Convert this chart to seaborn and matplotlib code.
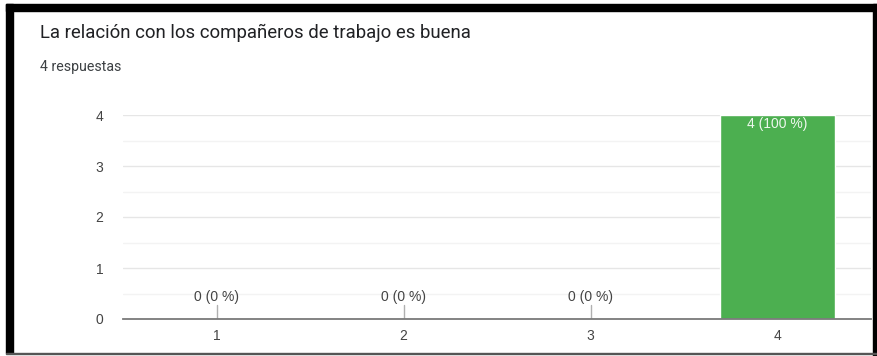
import seaborn as sns
import matplotlib.pyplot as plt
import pandas as pd
from matplotlib.patches import Rectangle

categories = ['1', '2', '3', '4']
counts = [0, 0, 0, 4]
labels = ['0 (0 %)', '0 (0 %)', '0 (0 %)', '4 (100 %)']

df = pd.DataFrame({'cat': categories, 'n': counts})

sns.set_style('white')
plt.rcParams['font.family'] = ['Liberation Sans', 'DejaVu Sans']

fig = plt.figure(figsize=(8.77, 3.56), dpi=100)
ax = fig.add_axes([123 / 877, 37 / 356, 748 / 877, 204 / 356])

sns.barplot(data=df, x='cat', y='n', color='#4caf50', saturation=1,
            width=0.62, ax=ax, zorder=3)

ax.set_xlim(-0.5, 3.5)
ax.set_ylim(0, 4)
ax.set_yticks([0, 1, 2, 3, 4])
ax.set_yticks([0.5, 1.5, 2.5, 3.5], minor=True)
ax.grid(axis='y', which='major', color='#e6e6e6', lw=1, zorder=0)
ax.grid(axis='y', which='minor', color='#f3f3f3', lw=1, zorder=0)
ax.set_xlabel('')
ax.set_ylabel('')
for s in ['top', 'right', 'left']:
    ax.spines[s].set_visible(False)
ax.spines['bottom'].set_color('#7a7a7a')
ax.spines['bottom'].set_linewidth(1.3)
ax.spines['bottom'].set_zorder(4)
ax.tick_params(axis='both', length=0, labelsize=10, colors='#444444')
ax.tick_params(axis='x', pad=7)
ax.tick_params(axis='y', pad=14)

for i, (v, lab) in enumerate(zip(counts, labels)):
    if v == 0:
        ax.plot([i, i], [0, 0.27], color='#b0b0b0', lw=1, zorder=4)
        ax.text(i, 0.3, lab, ha='center', va='bottom', fontsize=10,
                color='#444444')
    else:
        ax.text(i, v - 0.04, lab, ha='center', va='top', fontsize=10,
                color='#eef7ee')

fig.text(40 / 877, 1 - 33 / 356, 'La relación con los compañeros de trabajo es buena',
         fontsize=13.4, color='#202124', va='center', family='Roboto')
fig.text(40 / 877, 1 - 67 / 356, '4 respuestas', fontsize=10.2,
         color='#3c4043', va='center', family='Roboto')

# black frame of the screenshot
H, W = 356, 877
fig.add_artist(Rectangle((6 / W, 3 / H), 7 / W, (H - 7) / H, color='black',
                         transform=fig.transFigure))
fig.add_artist(Rectangle((6 / W, 1 - 11 / H), 1 - 6 / W, 7 / H, color='black',
                         transform=fig.transFigure))
fig.add_artist(Rectangle((873 / W, 0), 4 / W, 1 - 4 / H, color='black',
                         transform=fig.transFigure))
fig.add_artist(Rectangle((6 / W, 2 / H), 1 - 6 / W, 1.5 / H, color='#555555',
                         transform=fig.transFigure))

fig.savefig('out.png', dpi=100)
